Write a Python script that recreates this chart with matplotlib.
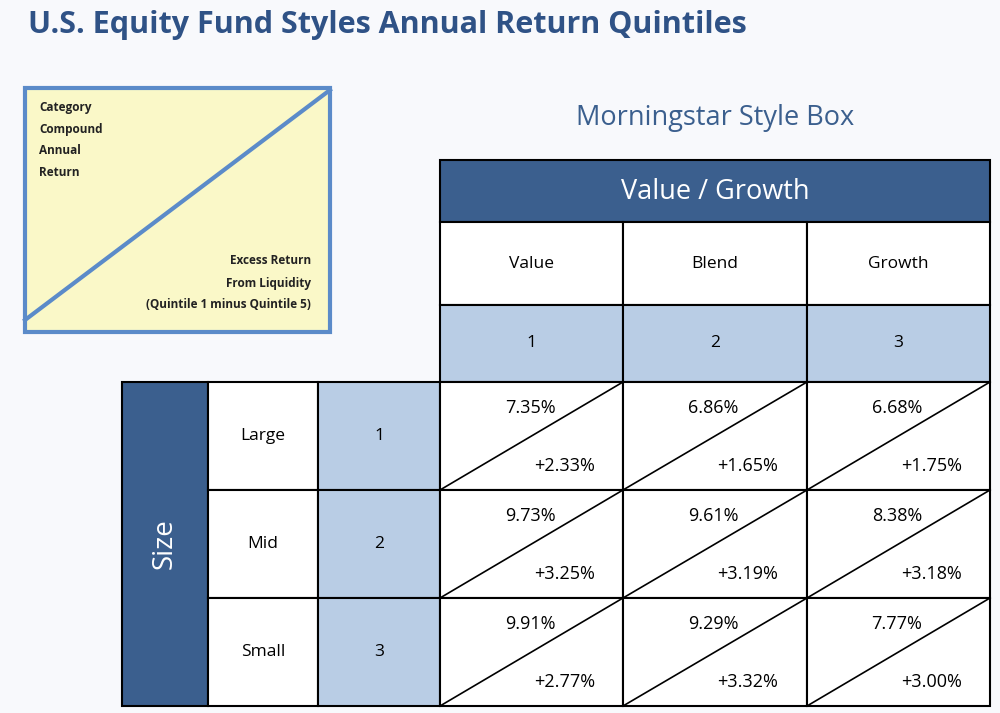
import matplotlib
matplotlib.use("Agg")
import matplotlib.pyplot as plt
from matplotlib.patches import Rectangle

# data
styles = ["Value", "Blend", "Growth"]
style_nums = ["1", "2", "3"]
sizes = ["Large", "Mid", "Small"]
size_nums = ["1", "2", "3"]
returns = [["7.35%", "6.86%", "6.68%"],
           ["9.73%", "9.61%", "8.38%"],
           ["9.91%", "9.29%", "7.77%"]]
excess = [["+2.33%", "+1.65%", "+1.75%"],
          ["+3.25%", "+3.19%", "+3.18%"],
          ["+2.77%", "+3.32%", "+3.00%"]]

dark = "#3B5F8E"
light = "#B9CDE5"
bg = "#F8F9FC"
plt.rcParams["font.family"] = ["Open Sans", "DejaVu Sans"]

fig = plt.figure(figsize=(10, 7.13), dpi=100, facecolor=bg)
ax = fig.add_axes([0, 0, 1, 1])
ax.set_xlim(0, 1000)
ax.set_ylim(713, 0)
ax.axis("off")
ax.set_facecolor(bg)

def box(x0, y0, x1, y1, fc, lw=1.5):
    ax.add_patch(Rectangle((x0, y0), x1 - x0, y1 - y0, fc=fc, ec="black", lw=lw))

ax.text(28, 25, "U.S. Equity Fund Styles Annual Return Quintiles", fontsize=22,
        fontweight="bold", color="#2F5286", va="center")
ax.text(715, 118, "Morningstar Style Box", fontsize=19.5, color="#3B5F8E",
        ha="center", va="center")

# legend box
ax.add_patch(Rectangle((25, 88), 305, 244, fc="#FAF8C8", ec="#5B8BC9", lw=3))
ax.plot([25, 330], [320, 90], color="#5B8BC9", lw=3)
for i, t in enumerate(["Category", "Compound", "Annual", "Return"]):
    ax.text(39, 107 + i * 22, t, fontsize=8.5, fontweight="bold", color="#222", va="center")
for i, t in enumerate(["Excess Return", "From Liquidity", "(Quintile 1 minus Quintile 5)"]):
    ax.text(311, 261 + i * 22, t, fontsize=8.5, fontweight="bold", color="#222",
            va="center", ha="right")

cx = [440, 623, 807, 990]
ry = [382, 490, 598, 706]

# header
box(440, 160, 990, 222, dark)
ax.text(715, 192, "Value / Growth", fontsize=19.5, color="white", ha="center", va="center")
for j in range(3):
    box(cx[j], 222, cx[j + 1], 305, "white")
    ax.text((cx[j] + cx[j + 1]) / 2, 264, styles[j], fontsize=12.5, ha="center", va="center")
    box(cx[j], 305, cx[j + 1], 382, light)
    ax.text((cx[j] + cx[j + 1]) / 2, 343, style_nums[j], fontsize=12.5, ha="center", va="center")

# size side
box(122, 382, 208, 706, dark)
ax.text(165, 544, "Size", fontsize=20, color="white", rotation=90, ha="center", va="center")
for i in range(3):
    box(208, ry[i], 318, ry[i + 1], "white")
    ax.text(263, (ry[i] + ry[i + 1]) / 2, sizes[i], fontsize=12.5, ha="center", va="center")
    box(318, ry[i], 440, ry[i + 1], light)
    ax.text(379, (ry[i] + ry[i + 1]) / 2, size_nums[i], fontsize=12.5, ha="center", va="center")
    for j in range(3):
        x0, x1, y0, y1 = cx[j], cx[j + 1], ry[i], ry[i + 1]
        box(x0, y0, x1, y1, "white")
        ax.plot([x0, x1], [y1, y0], color="black", lw=1.2)
        ax.text(x0 + 90, y0 + 26, returns[i][j], fontsize=13, ha="center", va="center")
        ax.text(x0 + 125, y1 - 24, excess[i][j], fontsize=13, ha="center", va="center")

fig.savefig("out.png", dpi=100, facecolor=bg)
